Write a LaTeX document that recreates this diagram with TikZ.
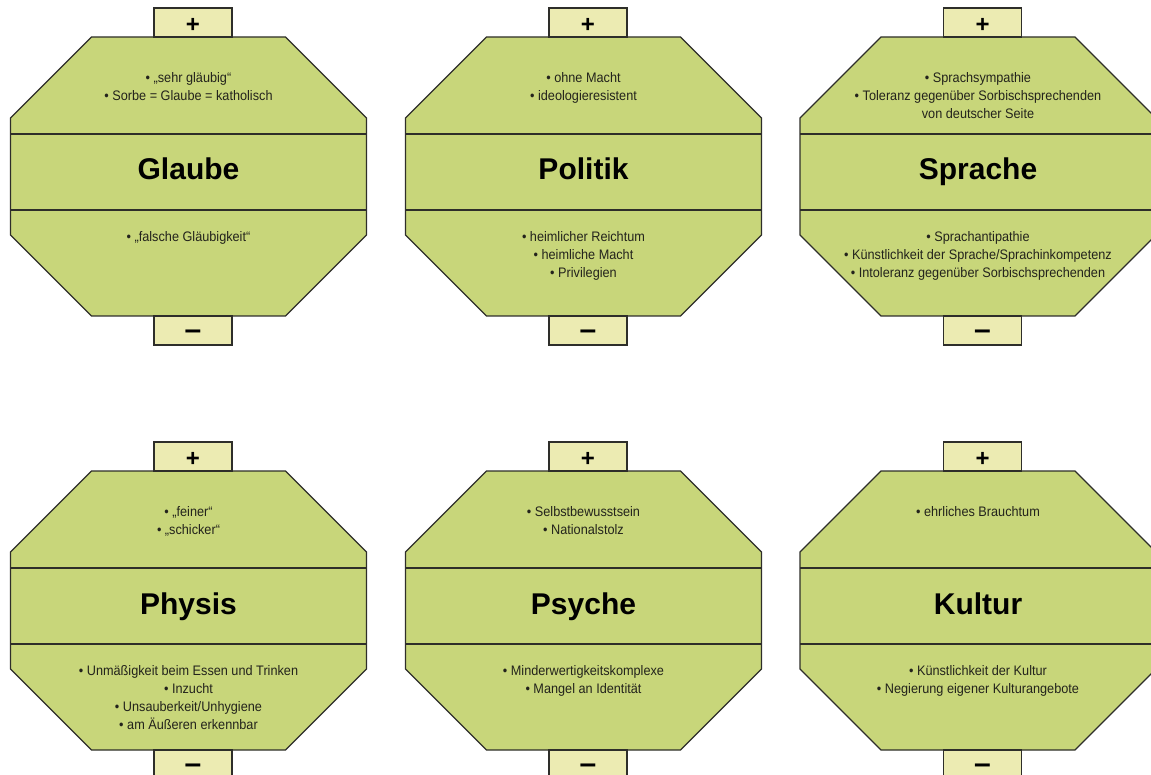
\documentclass[tikz,border=0pt]{standalone}
\usepackage{fontspec}
\setmainfont{Liberation Sans}
\newfontfamily\itemfont[FakeStretch=0.92]{Liberation Sans}

\definecolor{cardgreen}{HTML}{C8D67A}
\definecolor{boxyellow}{HTML}{ECEBB2}
\definecolor{outline}{HTML}{2E2E2A}
\definecolor{textdark}{HTML}{23231C}

\tikzset{
  octfill/.style={fill=cardgreen, draw=outline, line width=1.2pt, line join=miter},
  divider/.style={draw=outline, line width=1.8pt},
  signbox/.style={draw=outline, fill=boxyellow, line width=1.2pt,
    minimum width=78pt, minimum height=29pt, inner sep=0pt, text depth=0pt,
    font=\bfseries},
  plussign/.style={signbox, text height=20.2pt, font=\bfseries\fontsize{24}{24}\selectfont},
  minussign/.style={signbox, text height=17.8pt, font=\bfseries\fontsize{30}{30}\selectfont},
  bullets/.style={align=center, inner sep=0pt, text=textdark,
    font=\itemfont\fontsize{13.8}{18}\selectfont},
  cardtitle/.style={inner sep=0pt, anchor=base, text=black,
    font=\bfseries\fontsize{30}{36}\selectfont},
}

% #1 name, #2 centre x, #3 top edge y, #4 title, #5 positive items, #6 negative items
\newcommand\drawcard[6]{%
  \draw[octfill] ({#2-97},{#3}) -- ({#2+97},{#3}) -- ({#2+178},{#3+81})
    -- ({#2+178},{#3+198}) -- ({#2+97},{#3+279}) -- ({#2-97},{#3+279})
    -- ({#2-178},{#3+198}) -- ({#2-178},{#3+81}) -- cycle;
  \draw[divider] ({#2-178},{#3+97}) -- ({#2+178},{#3+97});
  \draw[divider] ({#2-178},{#3+173}) -- ({#2+178},{#3+173});
  \node[plussign]  (#1-plus)  at ({#2+4.5},{#3-14.5}) {+};
  \node[minussign] (#1-minus) at ({#2+4.5},{#3+293.5}) {–};
  \node[cardtitle] (#1-title) at ({#2},{#3+143}) {#4};
  \node[bullets, anchor=north] (#1-pos) at ({#2},{#3+35.5}) {#5};
  \node[bullets, anchor=north] (#1-neg) at ({#2},{#3+194.5}) {#6};
}

\begin{document}
\begin{tikzpicture}[x=1pt, y=-1pt]
  \useasboundingbox (0,0) rectangle (1151,775);
  \clip (0,0) rectangle (1151,775);

  \drawcard{glaube}{188.5}{37}{Glaube}
    {• „sehr gläubig“\\• Sorbe = Glaube = katholisch}
    {• „falsche Gläubigkeit“}
  \drawcard{politik}{583.5}{37}{Politik}
    {• ohne Macht\\• ideologieresistent}
    {• heimlicher Reichtum\\• heimliche Macht\\• Privilegien}
  \drawcard{sprache}{978}{37}{Sprache}
    {• Sprachsympathie\\• Toleranz gegenüber Sorbischsprechenden\\von deutscher Seite}
    {• Sprachantipathie\\• Künstlichkeit der Sprache/Sprachinkompetenz\\• Intoleranz gegenüber Sorbischsprechenden}

  \drawcard{physis}{188.5}{471}{Physis}
    {• „feiner“\\• „schicker“}
    {• Unmäßigkeit beim Essen und Trinken\\• Inzucht\\• Unsauberkeit/Unhygiene\\• am Äußeren erkennbar}
  \drawcard{psyche}{583.5}{471}{Psyche}
    {• Selbstbewusstsein\\• Nationalstolz}
    {• Minderwertigkeitskomplexe\\• Mangel an Identität}
  \drawcard{kultur}{978}{471}{Kultur}
    {• ehrliches Brauchtum}
    {• Künstlichkeit der Kultur\\• Negierung eigener Kulturangebote}
\end{tikzpicture}
\end{document}
